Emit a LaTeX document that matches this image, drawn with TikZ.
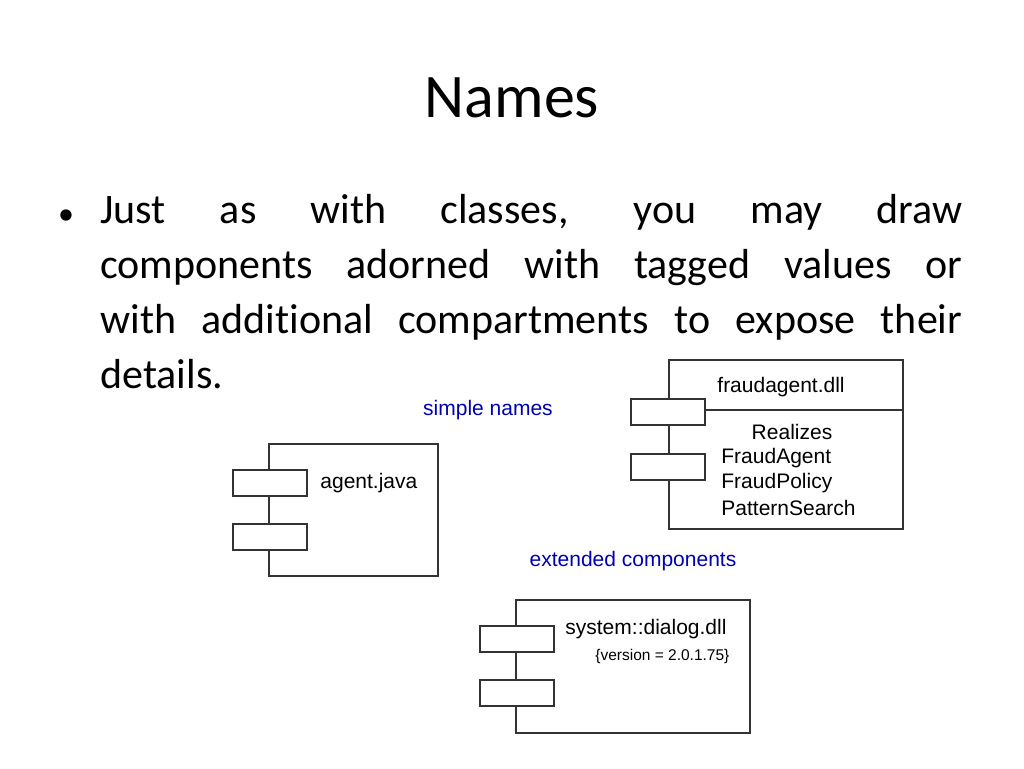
\documentclass[tikz,border=0pt]{standalone}
\usepackage{fontspec}
\setmainfont[Ligatures=NoCommon]{Carlito}
\newfontfamily\diafont{Liberation Sans}
\begin{document}
\begin{tikzpicture}[x=1pt,y=-1pt,thick,
  box/.style={draw=black!80,line width=1.3pt},
  lbl/.style={font=\diafont\fontsize{21}{25}\selectfont,inner sep=0,anchor=west},
  note/.style={font=\diafont\fontsize{21}{25}\selectfont,text=blue!70!black,inner sep=0}]
	\useasboundingbox (0,0) rectangle (1024,768);
	%title and text
	\node[font=\fontsize{62}{66}\selectfont,inner sep=0] (title) at (512,98) {Names};
	\node[font=\fontsize{42}{55}\selectfont,inner sep=0,anchor=north west,text width=862pt,align=justify] (body) at (100,194)
	  {\hyphenpenalty=10000 Just as with classes, you may draw\linebreak components adorned with tagged values or\linebreak with additional compartments to expose their\linebreak details.};
	\node[font=\fontsize{32}{55}\selectfont,inner sep=0,anchor=base] (dot) at (66,224) {\textbullet};

	%agent.java
	\draw[box] (269,444) rectangle (438,576);
	\draw[box,fill=white] (233,470) rectangle (307,496);
	\draw[box,fill=white] (233,524) rectangle (307,550);
	\node[lbl] (agent) at (320,483) {agent.java};

	%fraudagent.dll
	\draw[box] (669,360) rectangle (903,529);
	\draw[box] (669,410) -- (903,410);
	\draw[box,fill=white] (631,399) rectangle (705,425);
	\draw[box,fill=white] (631,454) rectangle (705,480);
	\node[lbl] (fraud) at (717,387) {fraudagent.dll};
	\node[lbl,anchor=center] (real) at (792,432) {Realizes};
	\node[lbl] (fa) at (721,458) {FraudAgent};
	\node[lbl] (fp) at (721,483) {FraudPolicy};
	\node[lbl] (ps) at (721,508) {PatternSearch};

	%system::dialog.dll
	\draw[box] (516,600) rectangle (750,733);
	\draw[box,fill=white] (480,626) rectangle (554,652);
	\draw[box,fill=white] (480,680) rectangle (554,706);
	\node[lbl] (dialog) at (565,629) {system::dialog.dll};
	\node[lbl,font=\diafont\fontsize{15.5}{18}\selectfont] (ver) at (595,656) {\{version = 2.0.1.75\}};

	%notes
	\node[note] (simple) at (488,410) {simple names};
	\node[note] (ext) at (633,561) {extended components};
\end{tikzpicture}
\end{document}
